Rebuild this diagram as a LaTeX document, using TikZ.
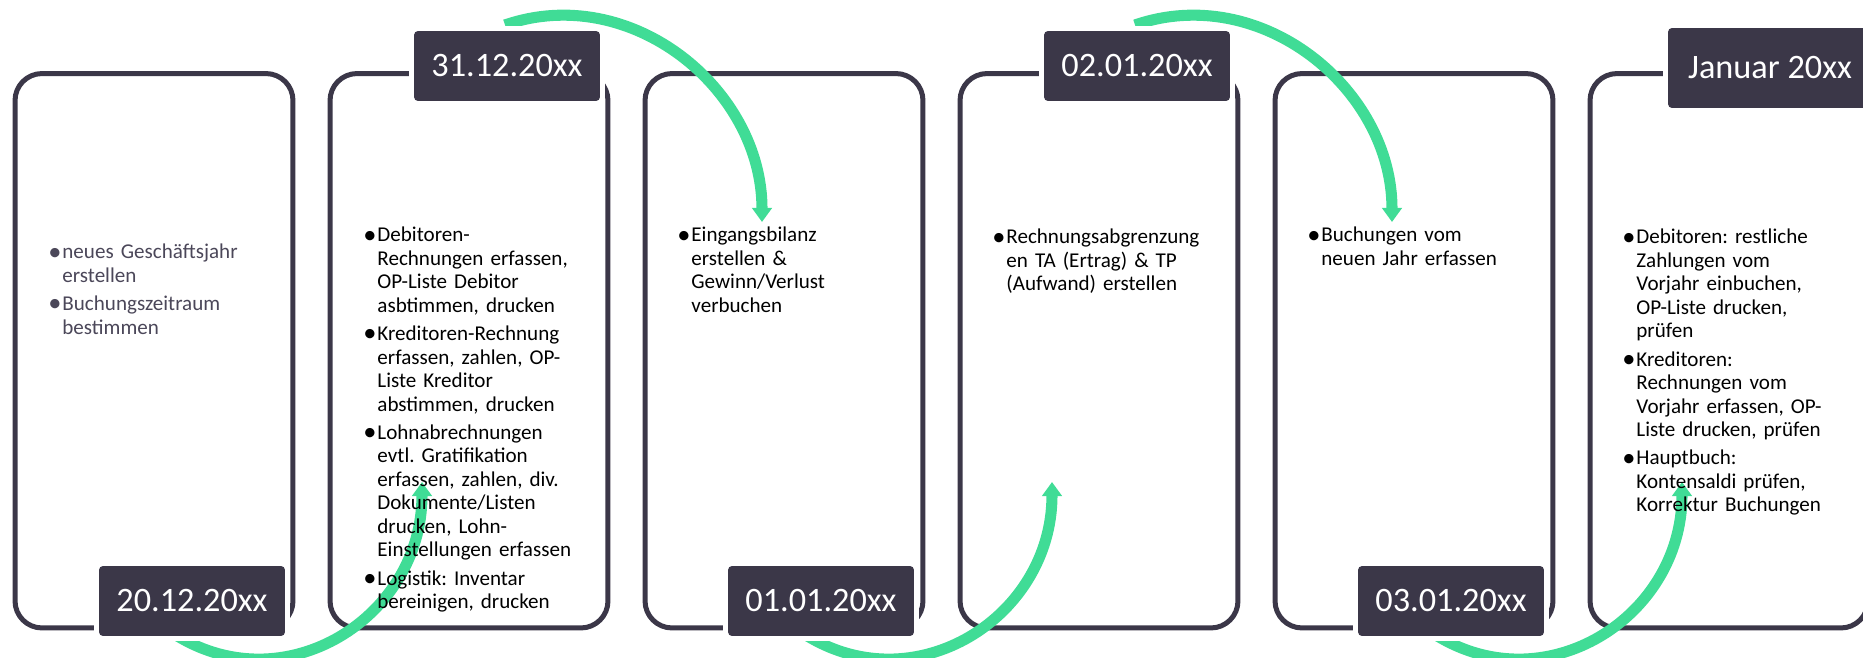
\documentclass[tikz,border=0pt]{standalone}
\usepackage{fontspec}
\setmainfont{Carlito}
\usetikzlibrary{arrows.meta}
\definecolor{dunkel}{RGB}{59,55,72}
\definecolor{gruen}{RGB}{64,220,150}
\definecolor{grau}{RGB}{75,71,89}
\frenchspacing
\newlength\punkteinzug
\setlength\punkteinzug{8pt}
\newcommand\punkt[1]{\par\hangindent=\punkteinzug\hangafter=1\noindent
  \makebox[\punkteinzug][l]{\raisebox{-0.06em}{\scalebox{1.25}{\textbullet}}}#1\par\vspace{2.85pt}}
\begin{document}
\begin{tikzpicture}[x=0.02cm,y=0.02cm,
  schritt/.style={draw=dunkel,line width=2.85pt,rounded corners=0.54cm,
    minimum width=5.56cm,minimum height=11.09cm,inner sep=0pt},
  datum/.style={fill=dunkel,text=white,rounded corners=0.08cm,
    minimum width=3.72cm,minimum height=1.4cm,inner sep=0pt,
    font=\fontsize{19.5pt}{23pt}\selectfont,
    preaction={draw=white,line width=2mm}},
  punkte/.style={anchor=north west,inner sep=0pt,text width=4.5cm,align=left,
    font=\fontsize{12pt}{13.35pt}\selectfont},
  pfeil/.style={draw=gruen,line width=6.3pt,-{Triangle[width=11pt,length=8pt]}}]
\useasboundingbox(0,0)rectangle(1863,657);
%
\node[schritt](s1)at(154,306.25){};
\node[schritt](s2)at(469,306.25){};
\node[schritt](s3)at(784,306.25){};
\node[schritt](s4)at(1099,306.25){};
\node[schritt](s5)at(1414,306.25){};
\node[schritt](s6)at(1729,306.25){};
%
\coordinate(a1)at(165,29.3);
\coordinate(b1)at(422,175);
\coordinate(a2)at(505,632);
\coordinate(b2)at(762,435);
\coordinate(a3)at(795,29.3);
\coordinate(b3)at(1052,175);
\coordinate(a4)at(1135,632);
\coordinate(b4)at(1392,435);
\coordinate(a5)at(1425,29.3);
\coordinate(b5)at(1682,175);
\draw[pfeil](a1)to[out=-36,in=-90,looseness=1.2](b1);
\draw[pfeil](a2)to[out=19,in=90,looseness=1.05](b2);
\draw[pfeil](a3)to[out=-36,in=-90,looseness=1.2](b3);
\draw[pfeil](a4)to[out=19,in=90,looseness=1.05](b4);
\draw[pfeil](a5)to[out=-36,in=-90,looseness=1.2](b5);
%
\node[punkte,text=grau](t1)at(48,422){%
  \punkt{neues Geschäftsjahr\newline erstellen}%
  \punkt{Buchungszeitraum\newline bestimmen}};
\node[punkte](t2)at(363,439){%
  \punkt{Debitoren-\newline Rechnungen erfassen,\newline OP-Liste Debitor\newline asbtimmen, drucken}%
  \punkt{Kreditoren-Rechnung\newline erfassen, zahlen, OP-\newline Liste Kreditor\newline abstimmen, drucken}%
  \punkt{Lohnabrechnungen\newline evtl. Gratifikation\newline erfassen, zahlen, div.\newline Dokumente/Listen\newline drucken, Lohn-\newline Einstellungen erfassen}%
  \punkt{Logistik: Inventar\newline bereinigen, drucken}};
\node[punkte](t3)at(677,439){%
  \punkt{Eingangsbilanz\newline erstellen \&\newline Gewinn/Verlust\newline verbuchen}};
\node[punkte](t4)at(992,437){%
  \punkt{Rechnungsabgrenzung\newline en TA (Ertrag) \& TP\newline (Aufwand) erstellen}};
\node[punkte](t5)at(1307,439){%
  \punkt{Buchungen vom\newline neuen Jahr erfassen}};
\node[punkte](t6)at(1622,437){%
  \punkt{Debitoren: restliche\newline Zahlungen vom\newline Vorjahr einbuchen,\newline OP-Liste drucken,\newline prüfen}%
  \punkt{Kreditoren:\newline Rechnungen vom\newline Vorjahr erfassen, OP-\newline Liste drucken, prüfen}%
  \punkt{Hauptbuch:\newline Kontensaldi prüfen,\newline Korrektur Buchungen}};
%
\node[datum](d1)at(192,56){20.12.20xx};
\node[datum](d2)at(507,591){31.12.20xx};
\node[datum](d3)at(821,56){01.01.20xx};
\node[datum](d4)at(1137,591){02.01.20xx};
\node[datum](d5)at(1451,56){03.01.20xx};
\node[datum,minimum width=4.08cm,minimum height=1.6cm](d6)at(1770,589){Januar 20xx};
\end{tikzpicture}
\end{document}
